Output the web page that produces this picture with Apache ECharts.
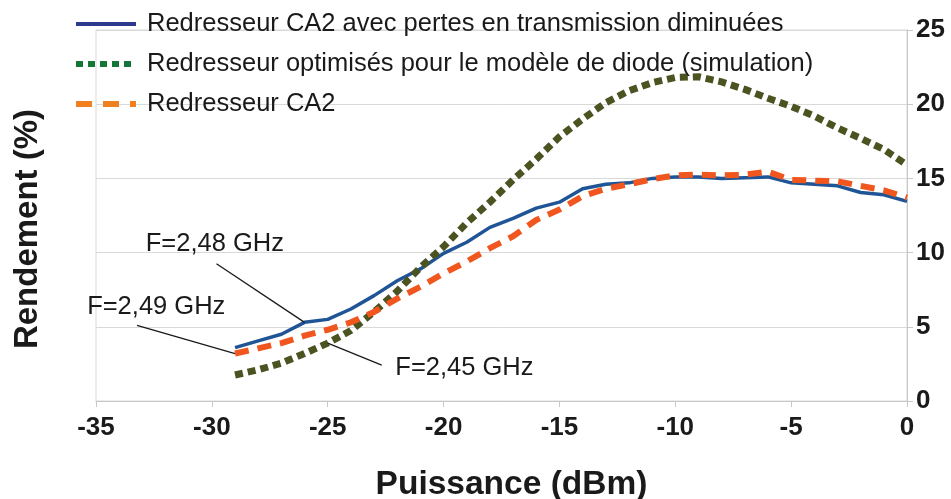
<!DOCTYPE html>
<html>
<head>
<meta charset="utf-8">
<script src="https://cdn.jsdelivr.net/npm/echarts@6/dist/echarts.min.js"></script>
<style>
  html, body { margin: 0; padding: 0; background: #ffffff; }
  #chart { width: 951px; height: 499px; }
</style>
</head>
<body>
<div id="chart"></div>
<script>
// Input power sweep (dBm)
const power = [-29, -28, -27, -26, -25, -24, -23, -22, -21, -20,
               -19, -18, -17, -16, -15, -14, -13, -12, -11, -10,
               -9, -8, -7, -6, -5, -4, -3, -2, -1, 0];

// Efficiency (%) of each rectifier
const ca2ReducedLoss = [3.6, 4.05, 4.5, 5.3, 5.5, 6.2, 7.1, 8.1, 8.9, 9.95,
                        10.7, 11.7, 12.3, 13.0, 13.4, 14.3, 14.6, 14.7, 15.0, 15.1,
                        15.1, 15.0, 15.05, 15.1, 14.7, 14.6, 14.5, 14.05, 13.9, 13.45];
const diodeModelSim = [1.75, 2.1, 2.55, 3.2, 3.9, 4.75, 6.0, 7.4, 9.0, 10.4,
                       12.0, 13.4, 14.9, 16.3, 17.8, 19.0, 20.1, 20.9, 21.45, 21.8,
                       21.85, 21.5, 21.0, 20.4, 19.85, 19.2, 18.4, 17.7, 16.95, 15.9];
const ca2 = [3.2, 3.55, 3.9, 4.4, 4.8, 5.3, 6.0, 6.9, 7.7, 8.6,
             9.4, 10.3, 11.1, 12.2, 12.9, 13.8, 14.3, 14.6, 14.95, 15.2,
             15.25, 15.2, 15.25, 15.45, 14.9, 14.85, 14.8, 14.5, 14.2, 13.7];

const seriesNames = [
  'Redresseur CA2 avec pertes en transmission diminuées',
  'Redresseur optimisés pour le modèle de diode (simulation)',
  'Redresseur CA2'
];

const xTicks = { min: -35, max: 0, step: 5 };
const yTicks = { min: 0, max: 25, step: 5 };

const FONT = "'Liberation Sans', Arial, sans-serif";
const TEXT = '#1a1a1a';
const GRID_LINE = '#d9d9d9';
const AXIS_LINE = '#c8c8c8';

const toPairs = vals => power.map((p, i) => [p, vals[i]]);

const chart = echarts.init(document.getElementById('chart'), null, { renderer: 'canvas' });

// Legend keys show the line style only, no point marker
const noMarker = { color: 'rgba(0,0,0,0)', borderWidth: 0, opacity: 0 };

const option = {
  animation: false,
  backgroundColor: '#ffffff',
  textStyle: { fontFamily: FONT },
  grid: {
    left: 96, right: 44, top: 30, bottom: 98,
    outerBoundsMode: 'none',
    containLabel: false,
    show: true, borderColor: GRID_LINE, borderWidth: 1
  },
  legend: {
    orient: 'vertical',
    left: 73,
    top: 9,
    padding: 0,
    itemWidth: 60,
    itemHeight: 14,
    itemGap: 10,
    selectedMode: false,
    textStyle: { fontFamily: FONT, fontSize: 25.5, lineHeight: 30, color: TEXT, padding: [0, 0, 0, 6] },
    data: [
      { name: seriesNames[0], itemStyle: noMarker, lineStyle: { color: '#2e3a8e', width: 4, type: 'solid' } },
      { name: seriesNames[1], itemStyle: noMarker, lineStyle: { color: '#13773a', width: 6, type: [7, 5], cap: 'butt' } },
      { name: seriesNames[2], itemStyle: noMarker, lineStyle: { color: '#f07f20', width: 6, type: [16, 11], cap: 'butt' } }
    ]
  },
  xAxis: {
    type: 'value',
    min: xTicks.min, max: xTicks.max, interval: xTicks.step,
    name: 'Puissance (dBm)',
    nameLocation: 'middle',
    nameGap: 67,
    nameTextStyle: { fontFamily: FONT, fontSize: 33.5, fontWeight: 'bold', color: TEXT, padding: [0, 0, 0, 20] },
    axisLine: { show: true, lineStyle: { color: AXIS_LINE, width: 1 } },
    axisTick: { show: true, length: 6, lineStyle: { color: AXIS_LINE } },
    splitLine: { show: false },
    axisLabel: { fontFamily: FONT, fontSize: 26, fontWeight: 'bold', color: TEXT, margin: 14 }
  },
  yAxis: {
    type: 'value',
    position: 'right',
    min: yTicks.min, max: yTicks.max, interval: yTicks.step,
    axisLine: { show: true, lineStyle: { color: AXIS_LINE, width: 1 } },
    axisTick: { show: true, length: 6, lineStyle: { color: AXIS_LINE } },
    splitLine: { show: true, lineStyle: { color: GRID_LINE, width: 1 } },
    axisLabel: { fontFamily: FONT, fontSize: 26, fontWeight: 'bold', color: TEXT, margin: 9 }
  },
  series: [
    {
      name: seriesNames[0], type: 'line', data: toPairs(ca2ReducedLoss),
      symbol: 'none', lineStyle: { color: '#1f5596', width: 3.5 }, itemStyle: { color: '#1f5596' }, z: 2
    },
    {
      name: seriesNames[1], type: 'line', data: toPairs(diodeModelSim),
      symbol: 'none', lineStyle: { color: '#4b5320', width: 7, type: [8, 5], cap: 'butt' }, itemStyle: { color: '#4b5320' }, z: 3
    },
    {
      name: seriesNames[2], type: 'line', data: toPairs(ca2),
      symbol: 'none', lineStyle: { color: '#f0561d', width: 6, type: [14, 9], cap: 'butt' }, itemStyle: { color: '#f0561d' }, z: 4
    }
  ]
};

chart.setOption(option);

// Frequency call-outs: a leader line from a measured point to its label
const callouts = [
  { text: 'F=2,48 GHz', values: ca2ReducedLoss, at: -26, tail: [-29.8, 9.25], label: [-29.87, 10.6] },
  { text: 'F=2,49 GHz', values: ca2, at: -29, tail: [-33.23, 5.1], label: [-32.4, 6.35] },
  { text: 'F=2,45 GHz', values: diodeModelSim, at: -25, tail: [-22.67, 2.42], label: [-19.1, 2.2] }
];

const px = v => chart.convertToPixel({ gridIndex: 0 }, v);
const graphics = [];
callouts.forEach(c => {
  const head = px([c.at, c.values[power.indexOf(c.at)]]);
  const tail = px(c.tail);
  const lab = px(c.label);
  graphics.push({
    type: 'line', z: 10,
    shape: { x1: tail[0], y1: tail[1], x2: head[0], y2: head[1] },
    style: { stroke: TEXT, lineWidth: 1.3 }
  });
  graphics.push({
    type: 'text', z: 10, x: lab[0], y: lab[1],
    style: { text: c.text, fontFamily: FONT, fontSize: 25.5, fill: TEXT, align: 'center', verticalAlign: 'middle' }
  });
});

// Vertical axis title on the left edge
graphics.push({
  type: 'text', x: 28, y: 229, rotation: Math.PI / 2,
  style: { text: 'Rendement (%)', fontFamily: FONT, fontSize: 33, fontWeight: 'bold', fill: TEXT, align: 'center', verticalAlign: 'middle' }
});

chart.setOption({ graphic: graphics });
</script>
</body>
</html>
